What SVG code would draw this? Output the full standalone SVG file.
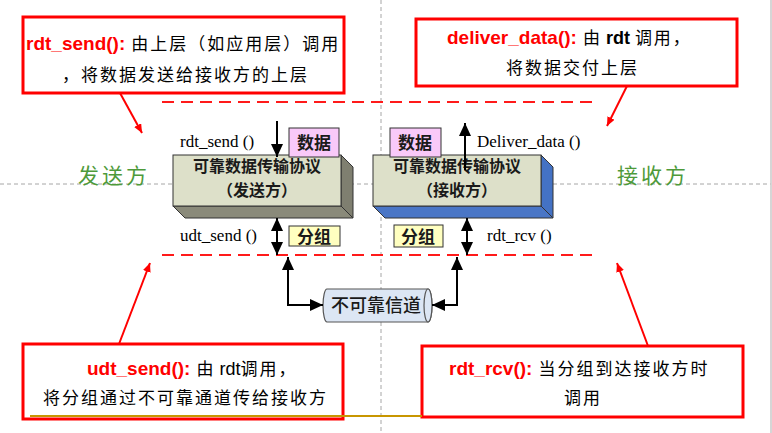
<svg xmlns="http://www.w3.org/2000/svg" width="772" height="433" viewBox="0 0 772 433">
<style>
.guide{stroke:#A6A6A6;stroke-width:1;stroke-dasharray:4 3;fill:none}
.reddash{stroke:#FF1A1A;stroke-width:2;stroke-dasharray:12 7;fill:none}
.note{fill:#FFFFFF;stroke:#FF0000;stroke-width:3}
.cjk{font-family:"Noto Sans CJK SC","Noto Sans",sans-serif;font-size:17px;fill:#000;letter-spacing:2px}
.fn{font-family:"Liberation Sans",Arial,sans-serif;font-weight:bold;font-size:19px;fill:#FF0000;letter-spacing:0}
.bl{font-family:"Liberation Sans",Arial,sans-serif;font-size:18px;fill:#000;letter-spacing:0}
.lbl{font-family:"Liberation Serif","Times New Roman",serif;font-size:17px;fill:#000}
.side{font-family:"Noto Sans CJK SC",sans-serif;font-size:21px;fill:#4E9A3A;letter-spacing:3px}
.boxtxt{font-family:"Noto Sans CJK SC",sans-serif;font-size:16px;font-weight:bold;fill:#1a1a1a;text-anchor:middle}
.tag{font-family:"Noto Sans CJK SC",sans-serif;font-size:17px;font-weight:bold;fill:#1a1a1a;text-anchor:middle}
.conn{stroke:#000;stroke-width:2;fill:none}
.redarrow{stroke:#FF0000;stroke-width:2;fill:none}
</style>
<defs>
<marker id="ah" markerUnits="userSpaceOnUse" markerWidth="14" markerHeight="12" refX="13" refY="6" orient="auto-start-reverse">
<path d="M0,0 L13,6 L0,12 Z" fill="#000"/>
</marker>
<marker id="rah" markerUnits="userSpaceOnUse" markerWidth="10" markerHeight="8" refX="9" refY="4" orient="auto">
<path d="M0,0 L9,4 L0,8 Z" fill="#FF0000"/>
</marker>
</defs>
<rect width="772" height="433" fill="#FFFFFF"/>
<g id="guides">
<line class="guide" x1="381" y1="0" x2="381" y2="433"/>
<line class="guide" x1="0" y1="184" x2="771" y2="184"/>
<line x1="771" y1="0" x2="771" y2="433" stroke="#C8C8C8" stroke-width="1.5"/>
<line class="reddash" x1="162" y1="102" x2="594" y2="102"/>
<line class="reddash" x1="162" y1="255" x2="594" y2="255"/>
</g>
<g id="side-labels">
<text class="side" x="78" y="183">发送方</text>
<text class="side" x="617" y="183">接收方</text>
</g>
<g id="sender">
<polygon points="341,155 353,167 353,218 341,206" fill="#7F7F70" stroke="#333" stroke-width="1"/>
<polygon points="173,206 341,206 353,218 185,218" fill="#8A8A7A" stroke="#333" stroke-width="1"/>
<rect x="173" y="155" width="168" height="51" fill="#DDE0C9" stroke="#333" stroke-width="1"/>
<text class="boxtxt" x="257" y="172">可靠数据传输协议</text>
<text class="boxtxt" x="257" y="196">（发送方）</text>
</g>
<g id="receiver">
<polygon points="541,155 553,167 553,218 541,206" fill="#4472C4" stroke="#333" stroke-width="1"/>
<polygon points="373,206 541,206 553,218 385,218" fill="#4A76C6" stroke="#333" stroke-width="1"/>
<rect x="373" y="155" width="168" height="51" fill="#DDE0C9" stroke="#333" stroke-width="1"/>
<text class="boxtxt" x="457" y="172">可靠数据传输协议</text>
<text class="boxtxt" x="457" y="196">（接收方）</text>
</g>
<g id="data-send">
<rect x="289" y="128" width="50" height="29" fill="#F9C9F9" stroke="#333" stroke-width="1"/>
<text class="tag" x="314" y="149">数据</text>
</g>
<g id="data-recv">
<rect x="390" y="128" width="51" height="29" fill="#F9C9F9" stroke="#333" stroke-width="1"/>
<text class="tag" x="415" y="149">数据</text>
</g>
<g id="packet-send">
<rect x="289" y="226" width="51" height="20" fill="#FFFFC0" stroke="#333" stroke-width="1"/>
<text class="tag" x="314" y="243">分组</text>
</g>
<g id="packet-recv">
<rect x="394" y="225" width="49" height="22" fill="#FFFFC0" stroke="#333" stroke-width="1"/>
<text class="tag" x="418" y="243">分组</text>
</g>
<g id="channel">
<path d="M327,289 L428,289 A4,16.5 0 0 1 428,322 L327,322 A4,16.5 0 0 1 327,289 Z" fill="#DCE6F4" stroke="#555" stroke-width="1.2"/>
<ellipse cx="428" cy="305.5" rx="4" ry="16.5" fill="#DCE6F4" stroke="#555" stroke-width="1.2"/>
<text class="tag" x="376" y="312" style="font-weight:500;font-size:18px">不可靠信道</text>
</g>
<g id="func-labels">
<text class="lbl" x="180" y="147">rdt_send ()</text>
<text class="lbl" x="180" y="241">udt_send ()</text>
<text class="lbl" x="477" y="147">Deliver_data ()</text>
<text class="lbl" x="487" y="241">rdt_rcv ()</text>
</g>
<g id="connectors">
<line class="conn" x1="277" y1="121" x2="277" y2="157" marker-end="url(#ah)"/>
<line class="conn" x1="465" y1="170" x2="465" y2="123" marker-end="url(#ah)"/>
<line class="conn" x1="277" y1="218" x2="277" y2="255" marker-start="url(#ah)" marker-end="url(#ah)"/>
<line class="conn" x1="467" y1="218" x2="467" y2="255" marker-start="url(#ah)" marker-end="url(#ah)"/>
<polyline class="conn" points="288,257 288,305 323,305" marker-start="url(#ah)" marker-end="url(#ah)"/>
<polyline class="conn" points="457,257 457,305 432,305" marker-start="url(#ah)" marker-end="url(#ah)"/>
<line class="redarrow" x1="120" y1="93" x2="142" y2="133" marker-end="url(#rah)"/>
<line class="redarrow" x1="627" y1="86" x2="607" y2="126" marker-end="url(#rah)"/>
<line class="redarrow" x1="119" y1="344" x2="150" y2="263" marker-end="url(#rah)"/>
<line class="redarrow" x1="648" y1="346" x2="617" y2="263" marker-end="url(#rah)"/>
</g>
<g id="note-rdt-send">
<rect class="note" x="23" y="17" width="321" height="76"/>
<text x="26" y="50"><tspan class="fn">rdt_send():</tspan><tspan class="cjk" dx="6">由上层（如应用层）调用</tspan></text>
<text class="cjk" x="62" y="81">，将数据发送给接收方的上层</text>
</g>
<g id="note-deliver">
<rect class="note" x="416" y="19" width="321" height="67"/>
<text x="447" y="44"><tspan class="fn">deliver_data():</tspan><tspan class="cjk" dx="6">由</tspan><tspan class="bl" dx="4" font-weight="bold">rdt</tspan><tspan class="cjk" dx="5">调用，</tspan></text>
<text class="cjk" x="506" y="74">将数据交付上层</text>
</g>
<g id="note-udt-send">
<rect class="note" x="23" y="344" width="320" height="75"/>
<text x="87" y="375"><tspan class="fn">udt_send():</tspan><tspan class="cjk" dx="6">由</tspan><tspan class="bl" dx="4">rdt</tspan><tspan class="cjk">调用，</tspan></text>
<text class="cjk" x="43" y="404">将分组通过不可靠通道传给接收方</text>
</g>
<g id="note-rdt-rcv">
<rect class="note" x="422" y="346" width="321" height="71"/>
<text x="449" y="375"><tspan class="fn">rdt_rcv():</tspan><tspan class="cjk" dx="6">当分组到达接收方时</tspan></text>
<text class="cjk" x="564" y="404">调用</text>
</g>
<line x1="30" y1="416" x2="422" y2="416" stroke="#C89600" stroke-width="2"/>
</svg>
